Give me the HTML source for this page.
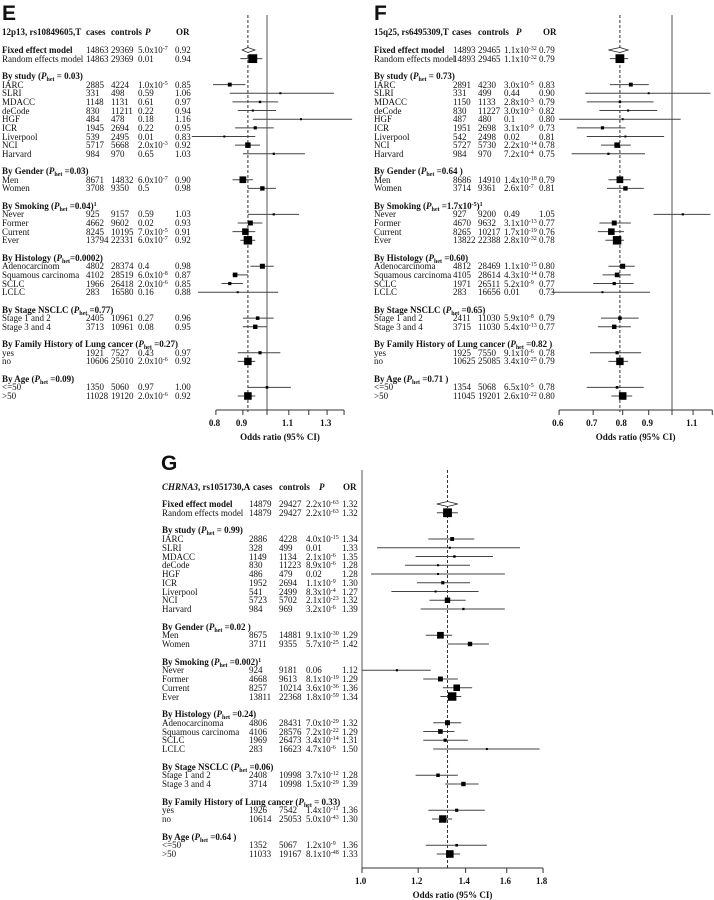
<!DOCTYPE html>
<html><head><meta charset="utf-8">
<style>
html,body{margin:0;padding:0;background:#fff;}
#root{position:relative;width:714px;height:900px;overflow:hidden;font-family:"Liberation Serif",serif;font-size:9px;color:#111;}
.t{position:absolute;white-space:nowrap;line-height:10px;}
.b{font-weight:bold;}
sup{font-size:6px;vertical-align:3px;line-height:0;}
sub{font-size:6px;vertical-align:-2px;line-height:0;}
.letter{position:absolute;font-family:"Liberation Sans",sans-serif;font-weight:bold;font-size:21px;}
svg{position:absolute;left:0;top:0;}
</style></head>
<body>
<div id="root">
<div class="letter" style="left:2px;top:2px">E</div>
<div class="letter" style="left:374px;top:2px">F</div>
<div class="letter" style="left:161px;top:452px">G</div>
<svg id="svg" width="714" height="900"></svg>
</div>
<script>
// ---- shared row labels ----
const rowLabels = ["Fixed effect model","Random effects model","IARC","SLRI","MDACC","deCode","HGF","ICR","Liverpool","NCI","Harvard","Men","Women","Never","Former","Current","Ever","Adenocarcinoma","Squamous carcinoma","SCLC","LCLC","Stage 1 and 2","Stage 3 and 4","yes","no","<=50",">50"];
const rowSlots = [0,1,4,5,6,7,8,9,10,11,12,15,16,19,20,21,22,25,26,27,28,31,32,35,36,39,40];
const groupSlots = [3,14,18,24,30,34,38];

// ---- Panel E data ----
const eTitle = "12p13, rs10849605,T";
const eGroups = ["By study (<i>P</i><sub>het</sub> = 0.03)","By Gender (<i>P</i><sub>het</sub> =0.03)","By Smoking (<i>P</i><sub>het</sub> =0.04)<sup>1</sup>","By Histology (<i>P</i><sub>het</sub>=0.0002)","By Stage NSCLC (<i>P</i><sub>het</sub> =0.77)","By Family History of Lung cancer (<i>P</i><sub>het</sub> =0.27)","By Age (<i>P</i><sub>het</sub> =0.09)"];
const eCases = [14863,14863,2885,331,1148,830,484,1945,539,5717,984,8671,3708,925,4662,8245,13794,4802,4102,1966,283,2405,3713,1921,10606,1350,11028];
const eControls = [29369,29369,4224,498,1131,11211,478,2694,2495,5668,970,14832,9350,9157,9602,10195,22331,28374,28519,26418,16580,10961,10961,7527,25010,5060,19120];
const ePvals = ["5.0x10^-7","0.01","1.0x10^-5","0.59","0.61","0.22","0.18","0.22","0.01","2.0x10^-3","0.65","6.0x10^-7","0.5","0.59","0.02","7.0x10^-5","6.0x10^-7","0.4","6.0x10^-8","2.0x10^-6","0.16","0.27","0.08","0.43","2.0x10^-6","0.97","2.0x10^-6"];
const eOR = [0.92,0.94,0.85,1.06,0.97,0.94,1.16,0.95,0.83,0.92,1.03,0.90,0.98,1.03,0.93,0.91,0.92,0.98,0.87,0.85,0.88,0.96,0.95,0.97,0.92,1.00,0.92];
const eLo = [0.897,0.89,0.79,0.85,0.86,0.88,0.94,0.87,0.72,0.87,0.90,0.86,0.92,0.92,0.88,0.86,0.89,0.93,0.86,0.82,0.74,0.90,0.90,0.88,0.88,0.92,0.88];
const eHi = [0.949,0.98,0.91,1.34,1.05,1.04,1.45,1.03,0.95,0.97,1.18,0.94,1.04,1.15,0.98,0.95,0.95,1.03,0.92,0.90,1.05,1.03,1.00,1.06,0.95,1.11,0.95];
const eTicks = [0.8,0.9,1.0,1.1,1.2,1.3,1.4];
const eTickLabels = ["0.8","0.9","","1.1","","1.3",""];

// ---- Panel F data ----
const fTitle = "15q25, rs6495309,T";
const fGroups = ["By study (<i>P</i><sub>het</sub> = 0.73)","By Gender (<i>P</i><sub>het</sub> =0.64 )","By Smoking (<i>P</i><sub>het</sub> =1.7x10<sup>-5</sup>)<sup>1</sup>","By Histology (<i>P</i><sub>het</sub> =0.60)","By Stage NSCLC (<i>P</i><sub>het</sub> =0.65)","By Family History of Lung cancer (<i>P</i><sub>het</sub> =0.82 )","By Age (<i>P</i><sub>het</sub> =0.71 )"];
const fCases = [14893,14893,2891,331,1150,830,487,1951,542,5727,984,8686,3714,927,4670,8265,13822,4812,4105,1971,283,2411,3715,1925,10625,1354,11045];
const fControls = [29465,29465,4230,499,1133,11227,480,2698,2498,5730,970,14910,9361,9200,9632,10217,22388,28469,28614,26511,16656,11030,11030,7550,25085,5068,19201];
const fPvals = ["1.1x10^-32","1.1x10^-32","3.0x10^-5","0.44","2.8x10^-3","3.0x10^-3","0.1","3.1x10^-9","0.02","2.2x10^-14","7.2x10^-4","1.4x10^-18","2.6x10^-7","0.49","3.1x10^-13","1.7x10^-19","2.8x10^-32","1.1x10^-15","4.3x10^-14","5.2x10^-9","0.01","5.9x10^-8","5.4x10^-13","9.1x10^-6","3.4x10^-25","6.5x10^-5","2.6x10^-22"];
const fOR = [0.79,0.79,0.83,0.90,0.79,0.82,0.80,0.73,0.81,0.78,0.75,0.79,0.81,1.05,0.77,0.76,0.78,0.80,0.78,0.77,0.73,0.79,0.77,0.78,0.79,0.78,0.80];
const fLo = [0.75,0.755,0.755,0.675,0.68,0.72,0.60,0.65,0.68,0.725,0.635,0.75,0.745,0.92,0.72,0.715,0.74,0.75,0.73,0.70,0.58,0.725,0.715,0.69,0.75,0.68,0.76];
const fHi = [0.82,0.82,0.90,1.19,0.92,0.935,1.04,0.81,0.965,0.83,0.885,0.83,0.88,1.19,0.83,0.805,0.805,0.845,0.83,0.84,0.905,0.86,0.83,0.87,0.82,0.88,0.835];
const fTicks = [0.6,0.7,0.8,0.9,1.0,1.1,1.2];
const fTickLabels = ["0.6","0.7","0.8","0.9","","1.1",""];

// ---- Panel G data ----
const gTitle = "<i>CHRNA3</i>, rs1051730,A";
const gGroups = ["By study (<i>P</i><sub>het</sub> = 0.99)","By Gender (<i>P</i><sub>het</sub> =0.02 )","By Smoking (<i>P</i><sub>het</sub> =0.002)<sup>1</sup>","By Histology (<i>P</i><sub>het</sub> =0.24)","By Stage NSCLC (<i>P</i><sub>het</sub> =0.06)","By Family History of Lung cancer (<i>P</i><sub>het</sub> = 0.33)","By Age (<i>P</i><sub>het</sub> =0.64 )"];
const gCases = [14879,14879,2886,328,1149,830,486,1952,541,5723,984,8675,3711,924,4668,8257,13811,4806,4106,1969,283,2408,3714,1926,10614,1352,11033];
const gControls = [29427,29427,4228,499,1134,11223,479,2694,2499,5702,969,14881,9355,9181,9613,10214,22368,28431,28576,26473,16623,10998,10998,7542,25053,5067,19167];
const gPvals = ["2.2x10^-63","2.2x10^-63","4.0x10^-15","0.01","2.1x10^-6","8.9x10^-6","0.02","1.1x10^-9","8.3x10^-4","2.1x10^-23","3.2x10^-6","9.1x10^-30","5.7x10^-25","0.06","8.1x10^-19","3.6x10^-36","1.8x10^-59","7.0x10^-29","7.2x10^-22","3.4x10^-14","4.7x10^-6","3.7x10^-12","1.5x10^-29","1.4x10^-11","5.0x10^-43","1.2x10^-9","8.1x10^-48"];
const gOR = [1.32,1.32,1.34,1.33,1.35,1.28,1.28,1.30,1.27,1.32,1.39,1.29,1.42,1.12,1.29,1.36,1.34,1.32,1.29,1.31,1.50,1.28,1.39,1.36,1.30,1.36,1.33];
const gLo = [1.275,1.275,1.24,1.05,1.19,1.15,1.03,1.195,1.10,1.245,1.21,1.23,1.32,1.00,1.22,1.30,1.29,1.26,1.22,1.22,1.26,1.19,1.31,1.24,1.255,1.23,1.275];
const gHi = [1.365,1.365,1.44,1.67,1.53,1.42,1.59,1.42,1.46,1.40,1.59,1.34,1.51,1.25,1.365,1.43,1.38,1.38,1.35,1.41,1.78,1.365,1.46,1.49,1.34,1.50,1.375];
const gTicks = [1.0,1.2,1.4,1.6,1.8];
const gTickLabels = ["1.0","1.2","1.4","1.6","1.8"];

const root = document.getElementById('root');
const svg = document.getElementById('svg');
const NS = "http://www.w3.org/2000/svg";

function pHtml(s){ const p=s.split('^'); return p.length>1 ? p[0]+'<sup>'+p[1]+'</sup>' : s; }
function txt(x,y,html,cls,name,extra){
  const d=document.createElement('div');
  d.className='t '+(cls||'');
  d.style.left=x+'px'; d.style.top=(y-5)+'px';
  if(extra) d.style.cssText+=extra;
  d.innerHTML=html;
  
  
  root.appendChild(d); return d;
}
function el(tag,attrs,name){
  const e=document.createElementNS(NS,tag);
  for(const k in attrs) e.setAttribute(k,attrs[k]);
  
  
  svg.appendChild(e); return e;
}

function panel(P){
  const slotY = s => P.y0 + s*P.step;
  const xs = v => P.x1 + Math.log(v)*P.k;   // log-scale axis function
  txt(P.cols[0],P.hy,P.title,'b','table-title');
  txt(P.hcols[0],P.hy,'cases','b','cases-header');
  txt(P.hcols[1],P.hy,'controls','b','controls-header');
  txt(P.hcols[2],P.hy,'<i>P</i>','b','p-header');
  txt(P.hcols[3],P.hy,'OR','b','or-header');
  P.groups.forEach((g,i)=>{ txt(P.cols[0],slotY(groupSlots[i]),g,'b','subgroup-header'); });
  for(let i=0;i<rowLabels.length;i++){
    const y=slotY(rowSlots[i]);
    let lab=rowLabels[i];
    if(P.id==='e' && i===17) lab='Adenocarcinom';
    txt(P.cols[0],y,lab.replace('<','&lt;').replace('>','&gt;'), i===0?'b':'', 'row-label');
    txt(P.cols[1],y,String(P.cases[i]),'','cases-value');
    txt(P.cols[2],y,String(P.controls[i]),'','controls-value');
    txt(P.cols[3],y,pHtml(P.pvals[i]),'','p-value');
    txt(P.cols[4],y,P.or[i].toFixed(2),'','or-value');
  }
  el('line',{x1:xs(1),x2:xs(1),y1:P.top,y2:P.axisY,stroke:'#555','stroke-width':1},'null-effect-line');
  el('line',{x1:xs(P.or[0]),x2:xs(P.or[0]),y1:P.top,y2:P.axisY+2,stroke:'#333','stroke-width':1,'stroke-dasharray':'3,2'},'summary-dashed-line');
  for(let i=0;i<rowLabels.length;i++){
    const y=slotY(rowSlots[i]);
    if(i===0){
      const a=xs(P.lo[i]), b=xs(P.hi[i]), c=xs(P.or[i]);
      el('polygon',{points:`${a},${y} ${c},${y-2.5} ${b},${y} ${c},${y+2.5}`,fill:'#fff',stroke:'#222','stroke-width':0.8},'fixed-effect-diamond');
      continue;
    }
    el('line',{x1:xs(P.lo[i]),x2:xs(P.hi[i]),y1:y,y2:y,stroke:'#444','stroke-width':1},'ci-line');
    const s=Math.max(2,0.072*Math.sqrt(P.cases[i]));
    el('rect',{x:xs(P.or[i])-s/2,y:y-s/2,width:s,height:s,fill:'#000'},'or-box');
  }
  const ax0=xs(P.ticks[0]), ax1=xs(P.ticks[P.ticks.length-1]);
  el('line',{x1:ax0,x2:ax1,y1:P.axisY,y2:P.axisY,stroke:'#333','stroke-width':1},'x-axis-line');
  P.ticks.forEach((t,i)=>{
    el('line',{x1:xs(t),x2:xs(t),y1:P.axisY,y2:P.axisY+5,stroke:'#333','stroke-width':1},'x-tick');
    if(P.tickLabels[i]) txt(xs(t)-7,P.axisY+13,P.tickLabels[i],'b','x-tick-label');
  });
  txt((ax0+ax1)/2-40,P.axisY+27,'Odds ratio (95% CI)','b','x-axis-title','width:80px;text-align:center;');
}

panel({id:'e',title:eTitle,groups:eGroups,cases:eCases,controls:eControls,pvals:ePvals,or:eOR,lo:eLo,hi:eHi,ticks:eTicks,tickLabels:eTickLabels,
  y0:50,step:8.65,hy:32,cols:[2,86,111,138,175],hcols:[86,111,145,176],x1:267,k:229,top:15,axisY:410});
panel({id:'f',title:fTitle,groups:fGroups,cases:fCases,controls:fControls,pvals:fPvals,or:fOR,lo:fLo,hi:fHi,ticks:fTicks,tickLabels:fTickLabels,
  y0:50,step:8.65,hy:32,cols:[374,453,478,504,539],hcols:[452,478,516,543],x1:672,k:221,top:15,axisY:410});
panel({id:'g',title:gTitle,groups:gGroups,cases:gCases,controls:gControls,pvals:gPvals,or:gOR,lo:gLo,hi:gHi,ticks:gTicks,tickLabels:gTickLabels,
  y0:504,step:8.75,hy:487,cols:[162,249,279,306,342],hcols:[253,279,319,343],x1:362,k:308,top:470,axisY:868});
</script>
</body></html>
